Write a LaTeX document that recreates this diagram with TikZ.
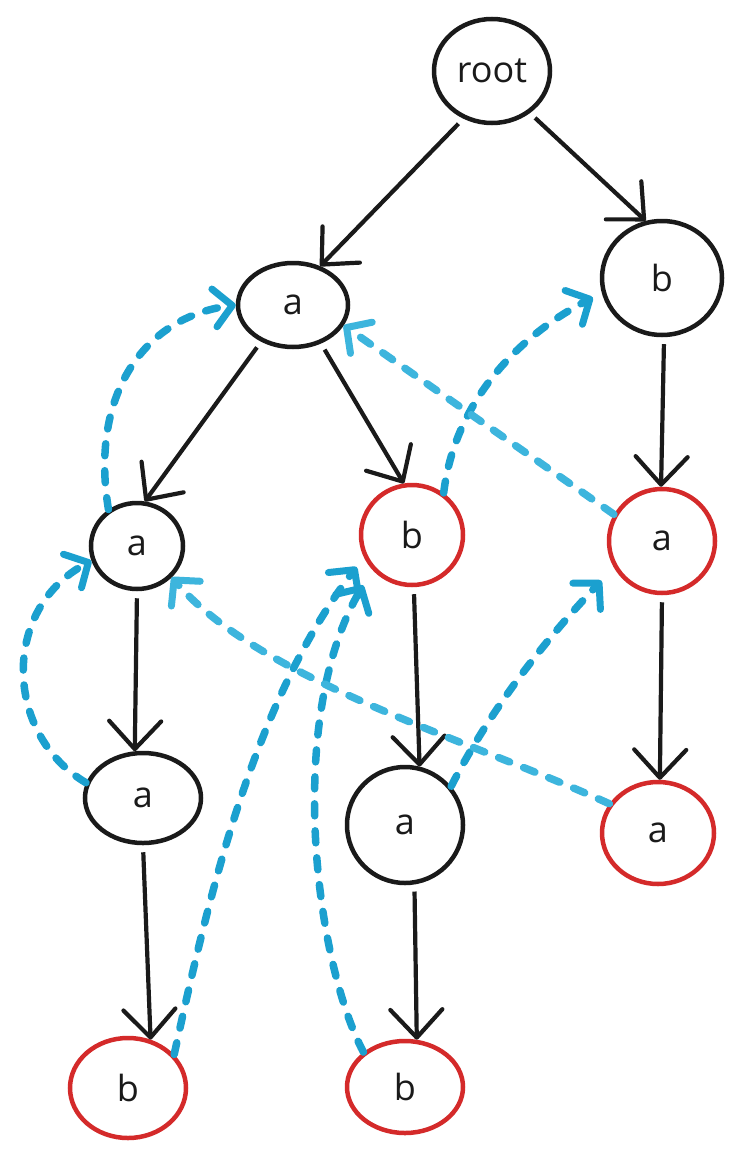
\documentclass[tikz,border=0pt]{standalone}
\usepackage{fontspec}
\setmainfont{Open Sans}
\usetikzlibrary{arrows.meta,shapes.geometric}
\definecolor{inkblack}{HTML}{1A1A1A}
\definecolor{inkred}{HTML}{D42A2A}
\definecolor{inkblue}{HTML}{1BA0CF}
\definecolor{inkbluelight}{HTML}{3DB5DD}
\begin{document}
\begin{tikzpicture}[x=1pt,y=-1pt,
  state/.style={ellipse, draw=inkblack, line width=4.5pt, inner sep=0pt, text=inkblack,
    font=\fontsize{36}{42}\selectfont},
  final/.style={state, draw=inkred},
  edge/.style={draw=inkblack, line width=4.2pt, shorten <=7pt,
    -{Straight Barb[length=28pt,width=52pt,line width=4.2pt,round]}},
  fail/.style={draw=inkblue, line width=7.5pt, line cap=round,
    dash pattern=on 12pt off 15pt,
    -{Straight Barb[length=18pt,width=38pt,line width=7pt,round]}},
  faillight/.style={fail, draw=inkbluelight},
]
\useasboundingbox (0,0) rectangle (743,1153);
\fill[white] (0,0) rectangle (743,1153);

% nodes
\node[state, minimum width=116pt, minimum height=104pt] (root) at (492,71) {root};
\node[state, minimum width=110pt, minimum height=84pt]  (a1)   at (293,305) {a};
\node[state, minimum width=120pt, minimum height=114pt] (b1)   at (662,278) {b};
\node[state, minimum width=92pt,  minimum height=86pt]  (aL2)  at (137,546) {a};
\node[final, minimum width=102pt, minimum height=100pt] (bM2)  at (412,535) {b};
\node[final, minimum width=106pt, minimum height=104pt] (aR2)  at (662,541) {a};
\node[state, minimum width=116pt, minimum height=90pt]  (aL3)  at (143,798) {a};
\node[state, minimum width=116pt, minimum height=116pt] (aM3)  at (405,825) {a};
\node[final, minimum width=112pt, minimum height=102pt] (aR3)  at (658,833) {a};
\node[final, minimum width=116pt, minimum height=100pt] (bL4)  at (128,1088) {b};
\node[final, minimum width=116pt, minimum height=92pt]  (bM4)  at (405,1087) {b};

% trie edges
\draw[edge] (root.-121) -- (a1.55);
\draw[edge] (root.-48) -- (b1.106);
\draw[edge] (a1.-131) -- (aL2.80);
\draw[edge] (a1.-54) -- (bM2.99);
\draw[edge] (b1.-88) -- (aR2.91);
\draw[edge] (aL2.-90) -- (aL3.100);
\draw[edge] (bM2.-88) -- (aM3.76);
\draw[edge] (aR2.-90) -- (aR3.88);
\draw[edge] (aL3.-90) -- (bL4.65);
\draw[edge] (aM3.-81) -- (bM4.76);

% failure links
\draw[fail] (aL2.128) .. controls (90,400) and (140,318) .. (a1.180);
\draw[fail] (aL3.165) .. controls (5,735) and (0,610) .. (aL2.198);
\draw[fail, shorten >=12pt] (bL4.36) .. controls (210,890) and (255,700) .. (bM2.205);
\draw[fail, shorten >=18pt] (bM4.140) .. controls (315,960) and (285,720) .. (bM2.221);
\draw[fail, shorten >=10pt] (bM2.53) .. controls (455,400) and (520,335) .. (b1.194);
\draw[faillight] (aR2.151) -- (a1.-22);
\draw[fail, shorten >=18pt] (aM3.40) .. controls (490,710) and (545,640) .. (aR2.209);
\draw[faillight] (aR3.149) .. controls (470,740) and (260,680) .. (aL2.-42);
\end{tikzpicture}
\end{document}
